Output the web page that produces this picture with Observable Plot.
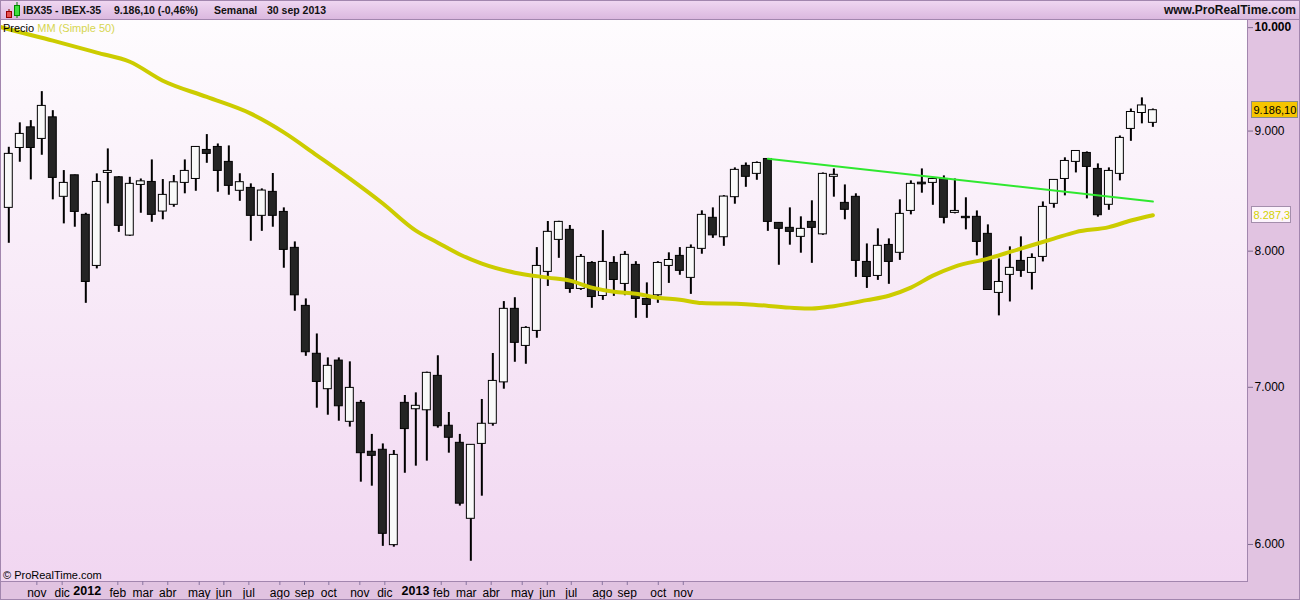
<!DOCTYPE html>
<html><head><meta charset="utf-8">
<script src="https://cdn.jsdelivr.net/npm/d3@7"></script>
<script src="https://cdn.jsdelivr.net/npm/@observablehq/plot@0.6"></script>
<style>
body{margin:0;background:#fff;font-family:"Liberation Sans",Arial,sans-serif;}
#wrap{position:relative;width:1300px;height:600px;overflow:hidden;background:#e1c3e1;}
#hdr{position:absolute;left:0;top:0;width:1300px;height:20px;box-sizing:border-box;border:1px solid #a286ae;background:linear-gradient(#efd6f1,#dbb8df);}
#hdr span{position:absolute;top:3px;font:bold 10.5px "Liberation Sans",Arial,sans-serif;color:#111;white-space:pre;}
#area{position:absolute;left:0;top:19px;width:1248px;height:563px;box-sizing:border-box;border-left:1px solid #a286ae;border-right:1px solid #a286ae;border-bottom:1px solid #a286ae;background:linear-gradient(#fefcfe,#f1d6f1);}
#frame{position:absolute;left:0;top:0;width:1300px;height:600px;box-sizing:border-box;border:1px solid #a286ae;pointer-events:none;}
#chart{position:absolute;left:0;top:20px;}
.lab{position:absolute;font:11px "Liberation Sans",Arial,sans-serif;white-space:pre;}
</style></head>
<body>
<div id="wrap">
  <div id="area"></div>
  <div id="hdr">
    <svg style="position:absolute;left:3px;top:1px" width="18" height="17">
      <line x1="5" y1="7" x2="5" y2="16" stroke="#700" stroke-width="1"/>
      <rect x="2.5" y="9.5" width="5" height="6" fill="#e65050" stroke="#900"/>
      <line x1="13" y1="0" x2="13" y2="16" stroke="#070" stroke-width="1"/>
      <rect x="10.5" y="3.5" width="5" height="10" fill="#3ee03e" stroke="#080"/>
    </svg>
    <span style="left:22px;top:3px">IBX35 - IBEX-35</span>
    <span style="left:113px">9.186,10 (-0,46%)</span>
    <span style="left:213px">Semanal</span>
    <span style="left:266px">30 sep 2013</span>
    <span style="right:3px;top:2px;font-size:12px">www.ProRealTime.com</span>
  </div>
  <div id="chart"></div>
  <div class="lab" style="left:3px;top:22px;color:#000">Precio <span style="color:#d6d650">MM (Simple 50)</span></div>
  <div class="lab" style="left:3px;top:569px;color:#000">© ProRealTime.com</div>
  <div id="frame"></div>
</div>
<script>
// Weekly IBEX-35 candles (Oct 2011 – 30 Sep 2013)
const opens = [8347,8852,9033,8931,9122,8438,8618,8290,7885,8638,
  8601,8123,8537,8562,8317,8372,8554,8587,8835,8861,
  8732,8488,8512,8282,8479,8314,8026,7582,7234,6987,
  7186,6767,6894,6571,6584,5996,6894,6851,6844,7079,
  6741,6629,6153,6622,6754,7034,7560,7290,7398,7839,
  8089,8169,7709,7908,7656,7908,7747,7893,7634,7661,
  7885,7963,7793,8018,8266,8110,8435,8698,8630,8757,
  8225,8185,8113,8233,8133,8605,8388,8438,7916,7808,
  8049,7987,8322,8556,8554,8587,8306,8274,8274,8137,
  7679,7816,7924,7831,7955,8380,8587,8732,8809,8672,
  8372,8630,9019,9161,9073];
const highs = [8858,9073,9093,9355,9182,8658,8620,8303,8630,8844,
  8607,8601,8587,8749,8582,8616,8749,8865,8969,8887,
  8870,8631,8546,8504,8633,8347,8073,7634,7376,7205,
  7205,7177,6910,6684,6622,6579,6944,6962,7105,7220,
  6829,6684,6618,6917,7236,7614,7643,7429,8028,8236,
  8238,8204,7974,7918,8163,7957,7997,7918,7755,7918,
  7987,8028,8049,8323,8347,8448,8681,8723,8732,8760,
  8228,8347,8274,8405,8638,8672,8537,8463,8057,8177,
  8097,8413,8571,8672,8590,8613,8587,8430,8322,8209,
  7939,8034,8113,7979,8396,8582,8767,8830,8818,8715,
  8681,8957,9197,9298,9197];
const lows = [8062,8729,8579,8789,8413,8217,8190,7601,7862,8380,
  8149,8117,8303,8230,8250,8352,8463,8484,8720,8476,
  8451,8401,8078,8157,8190,7867,7542,7216,6858,6811,
  6771,6732,6378,6353,5989,5984,6434,6479,6511,6725,
  6562,6230,5902,6291,6738,6987,7174,7160,7345,7728,
  7944,7676,7698,7564,7623,7653,7658,7490,7490,7601,
  7751,7813,7668,7976,8101,8038,8377,8517,8576,8157,
  7890,8047,7984,7905,8125,8435,8250,7797,7713,7774,
  7744,7928,8290,8468,8368,8217,8298,8169,7963,7697,
  7508,7611,7797,7701,7916,8344,8446,8638,8421,8271,
  8327,8571,8910,9064,9033];
const closes = [8801,8975,8852,9225,8596,8554,8314,7762,8562,8655,
  8201,8546,8567,8290,8454,8559,8655,8861,8801,8655,
  8529,8560,8282,8490,8282,8010,7661,7245,7037,7149,
  6871,6996,6562,6545,6063,6551,6719,6874,7100,6738,
  6662,6245,6616,6754,7044,7560,7312,7420,7885,8153,
  8233,7709,7955,7648,7916,7777,7971,7634,7589,7908,
  7931,7847,8026,8290,8125,8440,8664,8605,8723,8233,
  8177,8153,8177,8185,8630,8622,8331,7924,7800,8042,
  7916,8298,8546,8542,8587,8266,8322,8263,8073,7701,
  7762,7870,7847,7947,8355,8579,8740,8826,8689,8287,
  8655,8940,9170,9229,9186.1];

// 50-week simple moving average, read at sample weeks (week index, value)
const maWeek = [-1,0,4,8,11,14,18,22,25,28,31,34,37,39,41,43,46,49,51,53,55,57,59,61,63,67,71,73,75,78,80,82,84,86,89,92,95,97,100,102,104];
const maValue = [9975,9945,9835,9720,9633,9456,9306,9155,8989,8789,8590,8383,8163,8067,7974,7903,7833,7795,7772,7719,7688,7673,7643,7628,7603,7595,7569,7562,7580,7625,7658,7719,7810,7880,7942,8020,8099,8151,8191,8244,8287.3];

// Trend line (week index, value)
const trendWeek = [69, 104];
const trendValue = [8760, 8399];

// Axis ticks as printed on the chart (week index positions)
const monthTickWeek = [2.55,4.85,9.91,12.18,14.45,17.31,19.55,21.82,24.64,26.88,29.09,31.91,34.18,39.31,41.58,43.85,46.67,48.95,51.13,53.95,56.22,59.04,61.31];
const monthLabels = ["nov","dic","feb","mar","abr","may","jun","jul","ago","sep","oct","nov","dic","feb","mar","abr","may","jun","jul","ago","sep","oct","nov"];
const yearTickWeek = [7.13, 36.97];
const yearLabels = ["2012","2013"];
const priceTicks = [6000, 7000, 8000, 9000];
const topTick = [10000];

const lastPrice = 9186.10, lastPriceLabel = "9.186,10";
const lastMA = 8287.3, lastMALabel = "8.287,3";

const candles = opens.map((o, i) => ({i, o, h: highs[i], l: lows[i], c: closes[i]}));
const ma = maWeek.map((w, k) => ({w, v: maValue[k]}));
const trend = trendWeek.map((w, k) => ({w, v: trendValue[k]}));
const monthMap = new Map(monthTickWeek.map((w, k) => [w, monthLabels[k]]));
const yearMap = new Map(yearTickWeek.map((w, k) => [w, yearLabels[k]]));

const loc = d3.formatLocale({decimal: ",", thousands: ".", grouping: [3], currency: ["", ""]});
const fmt = loc.format(",d");

function tag(value, label, fill, stroke, color, w) {
  return (index, scales) => {
    const y = scales.y(value);
    const g = d3.create("svg:g");
    g.append("rect").attr("x", 1251.5).attr("y", Math.round(y) - 8.5).attr("width", w).attr("height", 16)
      .attr("fill", fill).attr("stroke", stroke);
    g.append("text").attr("x", 1253.5).attr("y", Math.round(y) + 4).attr("fill", color)
      .attr("text-anchor", "start")
      .attr("font-size", 11).attr("font-family", "Liberation Sans, Arial, sans-serif").text(label);
    return g.node();
  };
}

const chart = Plot.plot({
  width: 1300, height: 580,
  marginLeft: 0, marginRight: 53, marginTop: 0, marginBottom: 19,
  style: {background: "transparent", fontFamily: "Liberation Sans, Arial, sans-serif", fontSize: "12px", color: "#000", overflow: "visible"},
  x: {type: "linear", domain: [-0.755, 112.6], axis: null},
  y: {type: "log", domain: [5786, 10031], axis: null},
  marks: [
    Plot.ruleX(candles, {x: "i", y1: "l", y2: "h", stroke: "#000", strokeWidth: 2}),
    Plot.rect(candles, {
      x1: d => d.i - 0.36, x2: d => d.i + 0.36,
      y1: d => Math.min(d.o, d.c), y2: d => Math.max(d.o, d.c),
      fill: d => d.c >= d.o ? "#f9f9f9" : "#242424", stroke: "#000", strokeWidth: 1
    }),
    Plot.line(ma, {x: "w", y: "v", stroke: "#cccc00", strokeWidth: 4, curve: "monotone-x", clip: true}),
    Plot.line(trend, {x: "w", y: "v", stroke: "#2fe82f", strokeWidth: 2}),
    Plot.axisY(priceTicks, {anchor: "right", tickSize: 5, tickPadding: 2, tickFormat: fmt, stroke: "#7d6a8c", fill: "#000", fontSize: 12}),
    Plot.axisY(topTick, {anchor: "right", tickSize: 5, tickPadding: 2, tickFormat: fmt, stroke: "#7d6a8c", fill: "#000", fontSize: 12, fontWeight: "bold", dy: 4}),
    Plot.axisX(monthTickWeek, {anchor: "bottom", tickSize: 4, tickPadding: 3, tickFormat: d => monthMap.get(d), stroke: "#8a76a0", fill: "#000", fontSize: 12}),
    Plot.axisX(yearTickWeek, {anchor: "bottom", tickSize: 0, tickPadding: 5, tickFormat: d => yearMap.get(d), fill: "#000", fontSize: 12.5, fontWeight: "bold"}),
    tag(lastPrice, lastPriceLabel, "#f6c500", "#8a8a8a", "#000", 46),
    tag(lastMA, lastMALabel, "#fdf4fd", "#a48eac", "#d2d200", 39)
  ]
});
document.getElementById("chart").appendChild(chart);
</script>
</body></html>
